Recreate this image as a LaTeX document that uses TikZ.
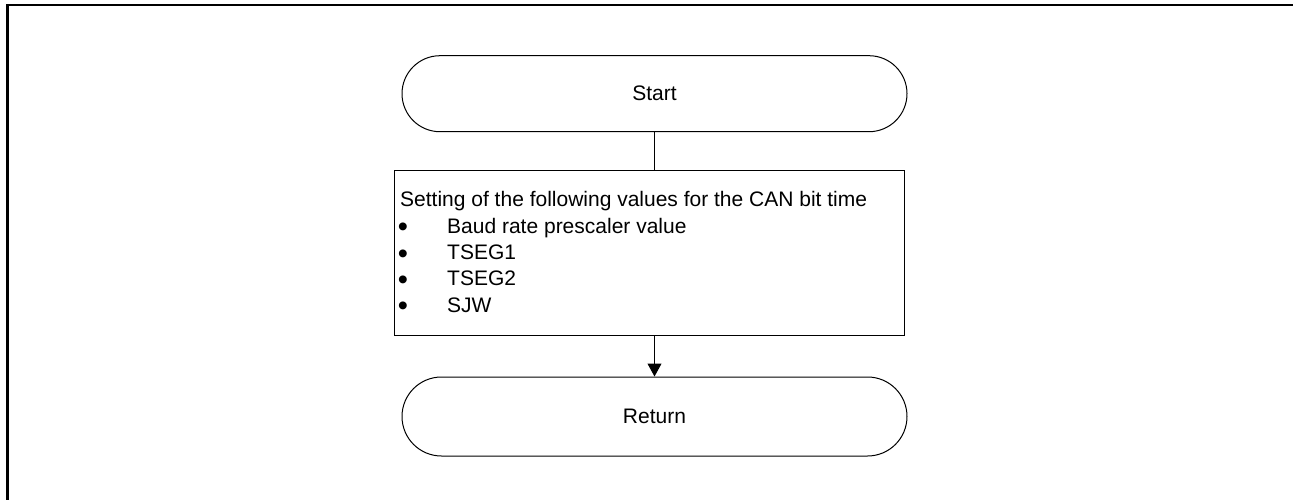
\documentclass[tikz,border=0pt]{standalone}
\usepackage{fontspec}
\setmainfont{Liberation Sans}
\usetikzlibrary{arrows.meta}
\begin{document}
\begin{tikzpicture}[x=1pt,y=-1pt,
  every node/.style={font=\fontsize{21pt}{25pt}\selectfont},
  term/.style={draw, line width=1pt, rectangle, inner sep=0pt, minimum width=505pt},
  procbox/.style={draw, line width=1pt, rectangle, inner sep=0pt, minimum width=510pt, minimum height=165pt},
  txt/.style={inner sep=0pt},
  bul/.style={inner sep=0pt, font=\fontsize{29pt}{29pt}\selectfont},
  conn/.style={line width=1pt}
]
\useasboundingbox (0,0) rectangle (1293,500);
\draw[line width=2.3pt] (7.5,5) rectangle (1293.8,504);

\node[term, minimum height=76pt, rounded corners=38pt] (start) at (654.5,93.7) {Start};
\node[procbox] (box) at (649,252.5) {};
\node[txt, anchor=base west] (l0) at (400,206.7) {Setting of the following values for the CAN bit time};
\node[bul, anchor=base] (b1) at (403,236.6) {•};
\node[txt, anchor=base west] (i1) at (447,233.1) {Baud rate prescaler value};
\node[bul, anchor=base] (b2) at (403,263.0) {•};
\node[txt, anchor=base west] (i2) at (447,259.5) {TSEG1};
\node[bul, anchor=base] (b3) at (403,289.4) {•};
\node[txt, anchor=base west] (i3) at (447,285.9) {TSEG2};
\node[bul, anchor=base] (b4) at (403,315.8) {•};
\node[txt, anchor=base west] (i4) at (447,312.3) {SJW};
\node[term, minimum height=79pt, rounded corners=39.5pt] (ret) at (654.5,416.5) {Return};

\draw[conn] (start.south) -- (start.south |- box.north);
\draw[conn, -{Triangle[width=14pt,length=13pt]}] (start.south |- box.south) -- (ret.north);
\end{tikzpicture}
\end{document}
